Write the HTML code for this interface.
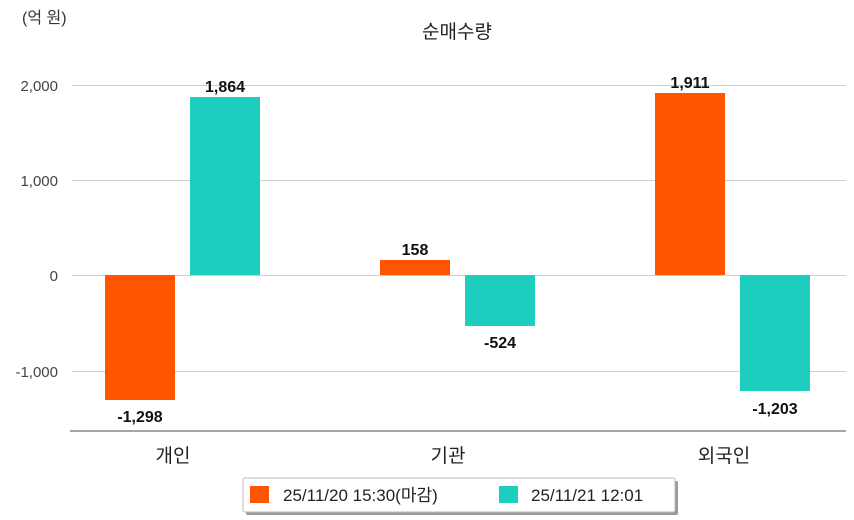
<!DOCTYPE html>
<html><head><meta charset="utf-8"><style>
html,body{margin:0;padding:0;background:#fff;}
svg{display:block;font-family:"Liberation Sans","Noto Sans CJK KR",sans-serif;}
</style></head><body>
<svg width="854" height="520" viewBox="0 0 854 520" xmlns="http://www.w3.org/2000/svg">
<rect width="854" height="520" fill="#fff"/>
<text x="22" y="23" font-size="16" fill="#333">(억 원)</text>
<text x="457" y="38" font-size="19" fill="#222" text-anchor="middle">순매수량</text>
<g stroke="#cfcfcf" stroke-width="1">
<line x1="72" y1="85.5" x2="846" y2="85.5"/>
<line x1="72" y1="180.5" x2="846" y2="180.5"/>
<line x1="72" y1="275.5" x2="846" y2="275.5"/>
<line x1="72" y1="371.5" x2="846" y2="371.5"/>
</g>
<line x1="70" y1="431" x2="846" y2="431" stroke="#888" stroke-width="1.5"/>
<g font-size="15" fill="#444" text-anchor="end">
<text x="58" y="91">2,000</text>
<text x="58" y="186">1,000</text>
<text x="58" y="281">0</text>
<text x="58" y="377">-1,000</text>
</g>
<rect x="105" y="275" width="70" height="125" fill="#ff5500"/>
<rect x="190" y="97" width="70" height="178" fill="#1dcdbd"/>
<rect x="380" y="260" width="70" height="15" fill="#ff5500"/>
<rect x="465" y="275" width="70" height="51" fill="#1dcdbd"/>
<rect x="655" y="93" width="70" height="182" fill="#ff5500"/>
<rect x="740" y="275" width="70" height="116" fill="#1dcdbd"/>
<g font-size="16" font-weight="bold" fill="#111" text-anchor="middle">
<text x="140" y="422">-1,298</text>
<text x="225" y="92">1,864</text>
<text x="415" y="255">158</text>
<text x="500" y="348">-524</text>
<text x="690" y="88">1,911</text>
<text x="775" y="414">-1,203</text>
</g>
<g font-size="19" fill="#222" text-anchor="middle">
<text x="173" y="462">개인</text>
<text x="448" y="462">기관</text>
<text x="724" y="462">외국인</text>
</g>
<rect x="246" y="481" width="432" height="34" fill="#999" rx="2"/>
<rect x="243" y="478" width="432" height="34" fill="#fff" stroke="#bbb" rx="2"/>
<rect x="250" y="486" width="19" height="17" fill="#ff5500"/>
<text x="283" y="501" font-size="17" fill="#222">25/11/20 15:30(마감)</text>
<rect x="499" y="486" width="19" height="17" fill="#1dcdbd"/>
<text x="531" y="501" font-size="17" fill="#222">25/11/21 12:01</text>
</svg>
</body></html>
